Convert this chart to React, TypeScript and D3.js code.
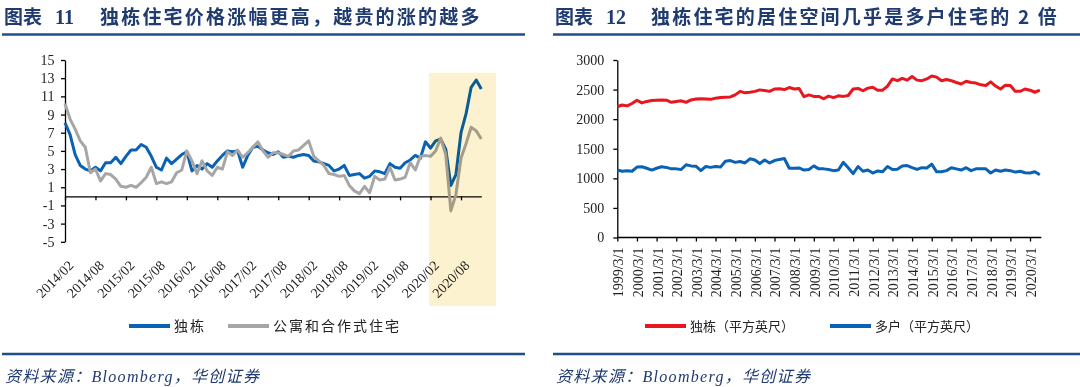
import React, { useRef, useEffect } from "react";
import * as d3 from "d3";

// chart 11: monthly yoy price growth (%), 2014/02 .. 2020/12
const priceTickLabels = ["2014/02", "2014/08", "2015/02", "2015/08", "2016/02", "2016/08", "2017/02", "2017/08", "2018/02", "2018/08", "2019/02", "2019/08", "2020/02", "2020/08"];
const priceYTicks = [-5, -3, -1, 1, 3, 5, 7, 9, 11, 13, 15];
const detachedGrowth = [
  8.1, 6.8, 4.6, 3.4, 3.0, 2.8, 3.2, 2.8, 3.7, 3.7,
  4.3, 3.6, 4.4, 5.1, 5.1, 5.7, 5.4, 4.4, 3.2, 2.9,
  4.2, 3.6, 4.1, 4.6, 4.9, 2.8, 3.4, 3.0, 3.6, 3.2,
  3.9, 4.5, 5.0, 4.9, 5.0, 3.2, 4.5, 5.4, 5.5, 5.1,
  4.8, 4.6, 4.9, 4.3, 4.4, 4.3, 4.5, 4.6, 4.5, 3.9,
  3.8, 3.6, 3.4, 2.8, 3.0, 3.4, 2.3, 2.4, 2.5, 2.0,
  2.2, 2.8, 2.7, 2.5, 3.6, 3.2, 3.1, 3.7, 4.0, 4.5,
  4.2, 6.0, 5.3, 6.1, 6.3, 5.2, 1.2, 2.4, 7.0, 9.1,
  12.0, 12.8, 11.8,
];
const apartmentGrowth = [
  10.2, 8.5, 7.4, 6.1, 5.4, 2.6, 3.0, 1.7, 2.5, 2.4,
  1.9, 1.1, 1.0, 1.2, 1.0, 1.5, 2.1, 3.2, 1.4, 1.6,
  1.4, 1.6, 2.6, 2.9, 5.0, 3.9, 2.5, 3.9, 2.8, 2.3,
  3.2, 3.0, 4.9, 4.5, 5.1, 4.3, 4.8, 5.4, 6.0, 5.0,
  4.3, 4.8, 4.8, 4.6, 4.4, 5.0, 5.1, 5.6, 6.1, 4.4,
  3.9, 3.4, 2.5, 2.4, 2.2, 2.3, 1.2, 0.6, 0.3, 1.1,
  0.4, 2.2, 1.8, 1.9, 3.2, 1.8, 1.9, 2.1, 3.7, 2.9,
  4.4, 4.5, 4.4, 5.0, 6.4, 4.6, -1.6, 0.2, 4.2, 5.8,
  7.6, 7.2, 6.3,
];
// highlighted period, in month index (2020 onward)
const highlightSpan = [71.7, 84.9];

// chart 12: quarterly living space (sq ft), 1999Q1 .. 2020Q3
const yearTickLabels = ["1999/3/1", "2000/3/1", "2001/3/1", "2002/3/1", "2003/3/1", "2004/3/1", "2005/3/1", "2006/3/1", "2007/3/1", "2008/3/1", "2009/3/1", "2010/3/1", "2011/3/1", "2012/3/1", "2013/3/1", "2014/3/1", "2015/3/1", "2016/3/1", "2017/3/1", "2018/3/1", "2019/3/1", "2020/3/1"];
const sizeYTicks = [0, 500, 1000, 1500, 2000, 2500, 3000];
const detachedSize = [
  2210, 2240, 2225, 2265, 2320, 2275, 2300, 2315, 2320, 2325,
  2320, 2285, 2300, 2310, 2285, 2325, 2340, 2345, 2340, 2335,
  2355, 2365, 2370, 2375, 2410, 2470, 2445, 2455, 2470, 2495,
  2485, 2470, 2510, 2515, 2500, 2535, 2510, 2520, 2380, 2410,
  2385, 2385, 2345, 2390, 2365, 2395, 2385, 2400, 2510, 2520,
  2480, 2525, 2540, 2490, 2490, 2560, 2680, 2650, 2690, 2660,
  2720, 2660, 2650, 2680, 2730, 2710, 2650, 2670, 2650, 2620,
  2595, 2640, 2620, 2610, 2580, 2570, 2630, 2560, 2510, 2575,
  2570, 2470, 2470, 2510, 2490, 2455, 2490,
];
const multiSize = [
  1140, 1120, 1130, 1120, 1190, 1195, 1170, 1140, 1170, 1195,
  1185, 1160, 1160, 1150, 1230, 1210, 1205, 1130, 1200, 1185,
  1200, 1190, 1290, 1300, 1270, 1285, 1260, 1330, 1310, 1250,
  1310, 1260, 1300, 1320, 1335, 1170, 1170, 1175, 1140, 1150,
  1210, 1160, 1160, 1150, 1130, 1140, 1270, 1180, 1080, 1200,
  1120, 1140, 1090, 1125, 1110, 1200, 1150, 1155, 1210, 1215,
  1180, 1150, 1180, 1175, 1240, 1110, 1110, 1130, 1180, 1160,
  1140, 1180, 1130, 1160, 1160, 1160, 1090, 1140, 1120, 1140,
  1130, 1105, 1120, 1095, 1090, 1110, 1060,
];

const NAVY = "#1F3B70";
const RULE = "#1F4E8A";
const SERIF = "'Liberation Serif', 'Times New Roman', serif";
const CJK = "'Noto Sans CJK SC', sans-serif";

const App = () => {
  const ref = useRef(null);

  useEffect(() => {
    document.body.style.margin = "0";
    const svg = d3.select(ref.current);
    svg.selectAll("*").remove();
    svg.attr("width", 1080).attr("height", 387).style("display", "block").style("background", "#fff");

    // ---- headers / footers ----
    const frame = (x0, x1, num, title, legend) => {
      svg.append("text").attr("x", x0 + 2).attr("y", 24).attr("fill", NAVY)
        .style("font-family", CJK).style("font-weight", 700).style("font-size", "19px").text("图表");
      svg.append("text").attr("x", x0 + 53).attr("y", 24).attr("fill", NAVY)
        .style("font-family", SERIF).style("font-weight", 700).style("font-size", "20px").text(num);
      svg.append("text").attr("x", x0 + 98).attr("y", 24).attr("fill", NAVY)
        .style("font-family", CJK).style("font-weight", 700).style("font-size", "19px")
        .style("letter-spacing", "2.2px").text(title);
      svg.append("line").attr("x1", x0).attr("x2", x1).attr("y1", 34.5).attr("y2", 34.5)
        .attr("stroke", RULE).attr("stroke-width", 2.5);
      svg.append("line").attr("x1", x0).attr("x2", x1).attr("y1", 354).attr("y2", 354)
        .attr("stroke", RULE).attr("stroke-width", 2.5);
      svg.append("text").attr("x", x0 + 3).attr("y", 382).attr("fill", NAVY)
        .style("font-family", `${SERIF.split(",")[0]}, ${CJK}`).style("font-style", "italic")
        .style("font-size", "16px").style("letter-spacing", "1.3px")
        .text("资料来源：Bloomberg，华创证券");
      legend.forEach((l) => {
        svg.append("line").attr("x1", l.x).attr("x2", l.x + 41).attr("y1", 326).attr("y2", 326)
          .attr("stroke", l.color).attr("stroke-width", 4);
        svg.append("text").attr("x", l.x + 45).attr("y", 331).attr("fill", "#222")
          .style("font-family", CJK).style("font-size", l.size + "px")
          .style("letter-spacing", l.spacing + "px").text(l.label);
      });
    };

    frame(2, 525, "11", "独栋住宅价格涨幅更高，越贵的涨的越多", [
      { x: 129, color: "#0A62B4", label: "独栋", size: 14, spacing: 2 },
      { x: 228, color: "#A6A6A6", label: "公寓和合作式住宅", size: 14, spacing: 2 },
    ]);
    frame(553, 1080, "12", "独栋住宅的居住空间几乎是多户住宅的 2 倍", [
      { x: 645, color: "#E8161F", label: "独栋（平方英尺）", size: 13, spacing: 0 },
      { x: 830, color: "#0A62B4", label: "多户（平方英尺）", size: 13, spacing: 0 },
    ]);

    const styleAxis = (g) => {
      g.selectAll("path").attr("stroke", "#000").attr("stroke-width", 1.3);
      g.selectAll("line").attr("stroke", "#000").attr("stroke-width", 1.3);
      g.selectAll("text").attr("fill", "#222").style("font-family", SERIF).style("font-size", "14px");
    };
    const plain = (d) => String(d);

    // ---- chart 11 ----
    const x1 = d3.scaleLinear().domain([0, detachedGrowth.length - 1]).range([65, 481.3]);
    const y1 = d3.scaleLinear().domain([-5, 15]).range([241.8, 60]);

    svg.append("g").attr("transform", "translate(65,0)")
      .call(d3.axisLeft(y1).tickValues(priceYTicks).tickFormat(plain).tickSize(4).tickSizeOuter(0).tickPadding(6.5))
      .call(styleAxis);
    svg.append("g").attr("transform", `translate(0,${y1(0)})`)
      .call(d3.axisBottom(x1).tickValues(priceTickLabels.map((_, i) => i * 6)).tickSize(4).tickSizeOuter(0).tickFormat(() => ""))
      .call(styleAxis);

    svg.append("g").selectAll("text").data(priceTickLabels).enter().append("text")
      .attr("transform", (d, i) => `translate(${x1(i * 6) + 6},${y1(-5) + 21}) rotate(-45)`)
      .attr("text-anchor", "end").attr("dy", "0.35em").attr("fill", "#222")
      .style("font-family", SERIF).style("font-size", "14px").text((d) => d);

    const line1 = d3.line().x((d, i) => x1(i)).y((d) => y1(d));
    svg.append("path").datum(detachedGrowth).attr("d", line1).attr("fill", "none")
      .attr("stroke", "#0A62B4").attr("stroke-width", 3).attr("stroke-linejoin", "round");
    svg.append("path").datum(apartmentGrowth).attr("d", line1).attr("fill", "none")
      .attr("stroke", "#A6A6A6").attr("stroke-width", 3).attr("stroke-linejoin", "round");

    svg.append("rect").attr("x", x1(highlightSpan[0])).attr("width", x1(highlightSpan[1]) - x1(highlightSpan[0]))
      .attr("y", y1(13.6)).attr("height", 306 - y1(13.6))
      .attr("fill", "#FDF2D0").style("mix-blend-mode", "multiply");

    // ---- chart 12 ----
    const x2 = d3.scaleLinear().domain([0, detachedSize.length - 1]).range([617.3, 617.3 + 86 * 4.913]);
    const y2 = d3.scaleLinear().domain([0, 3000]).range([237.5, 60]);

    svg.append("g").attr("transform", "translate(617.3,0)")
      .call(d3.axisLeft(y2).tickValues(sizeYTicks).tickFormat(plain).tickSize(4).tickSizeOuter(0).tickPadding(9))
      .call(styleAxis);
    const xg2 = svg.append("g").attr("transform", `translate(0,${y2(0)})`)
      .call(d3.axisBottom(x2).tickValues(yearTickLabels.map((_, i) => i * 4)).tickSize(4).tickSizeOuter(0).tickFormat(() => ""))
      .call(styleAxis);
    xg2.select("path.domain").attr("d", `M${x2(0)},0H${x2(0) + 424}`);

    svg.append("g").selectAll("text").data(yearTickLabels).enter().append("text")
      .attr("transform", (d, i) => `translate(${x2(i * 4) + 1},${y2(0) + 10}) rotate(-90)`)
      .attr("text-anchor", "end").attr("dy", "0.35em").attr("fill", "#222")
      .style("font-family", SERIF).style("font-size", "14px").text((d) => d);

    const line2 = d3.line().x((d, i) => x2(i)).y((d) => y2(d));
    svg.append("path").datum(detachedSize).attr("d", line2).attr("fill", "none")
      .attr("stroke", "#E8161F").attr("stroke-width", 3).attr("stroke-linejoin", "round");
    svg.append("path").datum(multiSize).attr("d", line2).attr("fill", "none")
      .attr("stroke", "#0A62B4").attr("stroke-width", 3).attr("stroke-linejoin", "round");
  }, []);

  return <svg ref={ref}></svg>;
};

export default App;
